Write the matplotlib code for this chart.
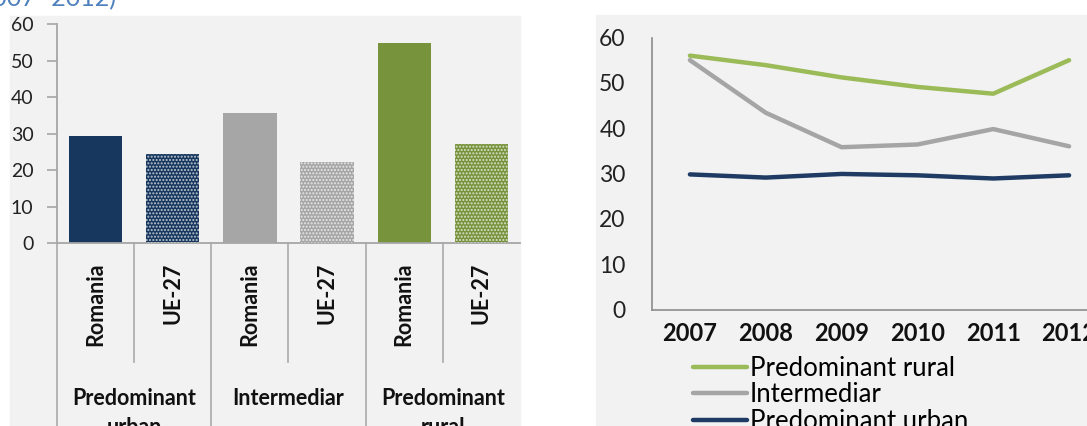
import matplotlib.pyplot as plt
from matplotlib.patches import Rectangle

plt.rcParams['font.family'] = ['Lato', 'DejaVu Sans']
plt.rcParams['hatch.linewidth'] = 1.0

# bar chart data
bar_labels = ["Romania", "UE-27", "Romania", "UE-27", "Romania", "UE-27"]
bar_values = [29.4, 24.5, 35.7, 22.3, 54.8, 27.2]
groups = ["Predominant\nurban", "Intermediar", "Predominant\nrural"]
group_colors = ["#17375e", "#a6a6a6", "#77933c"]

# line chart data
years = ["2007", "2008", "2009", "2010", "2011", "2012"]
rural = [56.0, 53.9, 51.2, 49.1, 47.6, 55.0]
intermediar = [55.0, 43.4, 35.8, 36.4, 39.8, 36.0]
urban = [29.8, 29.1, 29.9, 29.6, 28.9, 29.6]
line_names = ["Predominant rural", "Intermediar", "Predominant urban"]
line_colors = ["#9bbb59", "#a5a5a5", "#1f3b63"]

W, H = 1087, 426
fig = plt.figure(figsize=(W / 100, H / 100), dpi=100)
fig.patch.set_facecolor("white")

# chart backgrounds
fig.patches.append(Rectangle((10 / W, 0), 510 / W, (H - 15.5) / H,
                             transform=fig.transFigure, color="#f2f2f2", zorder=-5))
fig.patches.append(Rectangle((596 / W, 0), (W - 596) / W, (H - 15) / H,
                             transform=fig.transFigure, color="#f2f2f2", zorder=-5))

# title remnant cut at top
fig.text(116 / W, 1 - 6 / H, "(2007- 2012)", ha="right", va="baseline",
         color="#4f81bd", fontsize=18)

# ---- left: bar chart
ax1 = fig.add_axes([57 / W, (H - 243) / H, (520 - 57) / W, (243 - 24.4) / H])
ax1.set_facecolor("none")
for i, v in enumerate(bar_values):
    c = group_colors[i // 2]
    ax1.bar(i, v, width=0.69, color=c, linewidth=0, zorder=2)
    if i % 2 == 1:
        ax1.bar(i, v, width=0.69, facecolor="none", edgecolor=(1, 1, 1, 0.7),
                hatch=".....", linewidth=0, zorder=3)

ax1.set_xlim(-0.5, 5.5)
ax1.set_ylim(0, 60)
ax1.set_yticks(range(0, 61, 10))
ax1.set_xticks([])
ax1.tick_params(axis="y", length=7, width=1.2, color="#a6a6a6", pad=10,
                labelsize=14, labelcolor="#222222")
for s in ["top", "right"]:
    ax1.spines[s].set_visible(False)
for s in ["left", "bottom"]:
    ax1.spines[s].set_color("#a6a6a6")
    ax1.spines[s].set_linewidth(1.3)

def ya(ypx):
    return (243 - ypx) / (243 - 24.4)

tr = ax1.get_xaxis_transform()
for xs in [-0.5, 1.5, 3.5]:
    ax1.plot([xs, xs], [0, ya(440)], transform=tr, color="#b0b0b0", lw=1.3, clip_on=False)
for xs in [0.5, 2.5, 4.5]:
    ax1.plot([xs, xs], [0, ya(362)], transform=tr, color="#b0b0b0", lw=1.3, clip_on=False)

for i, lab in enumerate(bar_labels):
    ax1.text(i, ya(263), lab, transform=tr, rotation=90, ha="center", va="top",
             fontsize=15.5, fontweight="bold", color="#111111")
for g, lab in enumerate(groups):
    ax1.text(2 * g + 0.5, ya(388), lab, transform=tr, ha="center", va="top",
             fontsize=15.5, fontweight="bold", color="#111111", linespacing=1.45)

# ---- right: line chart
ax2 = fig.add_axes([652 / W, (H - 309.5) / H, 455 / W, (309.5 - 37.5) / H])
ax2.set_facecolor("none")
xi = range(len(years))
for vals, name, col in zip([rural, intermediar, urban], line_names, line_colors):
    ax2.plot(xi, vals, color=col, lw=3.2, solid_capstyle="round",
             solid_joinstyle="round", label=name)
ax2.set_xlim(-0.5, 5.5)
ax2.set_ylim(0, 60)
ax2.set_yticks(range(0, 61, 10))
ax2.set_xticks(list(xi))
ax2.set_xticklabels(years, fontweight="bold")
ax2.tick_params(axis="y", length=0, pad=19, labelsize=16.5, labelcolor="#222222")
ax2.tick_params(axis="x", length=0, pad=9, labelsize=17, labelcolor="#111111")
for s in ["top", "right"]:
    ax2.spines[s].set_visible(False)
for s in ["left", "bottom"]:
    ax2.spines[s].set_color("#8c8c8c")
    ax2.spines[s].set_linewidth(1.2)

fig.legend(loc="upper left", bbox_to_anchor=(693 / W, 1 - 356 / H),
           frameon=False, fontsize=18.5, handlelength=2.1, handletextpad=0.1,
           labelspacing=0.05, borderpad=0, borderaxespad=0)

fig.savefig("out.png", dpi=100, facecolor="white")
